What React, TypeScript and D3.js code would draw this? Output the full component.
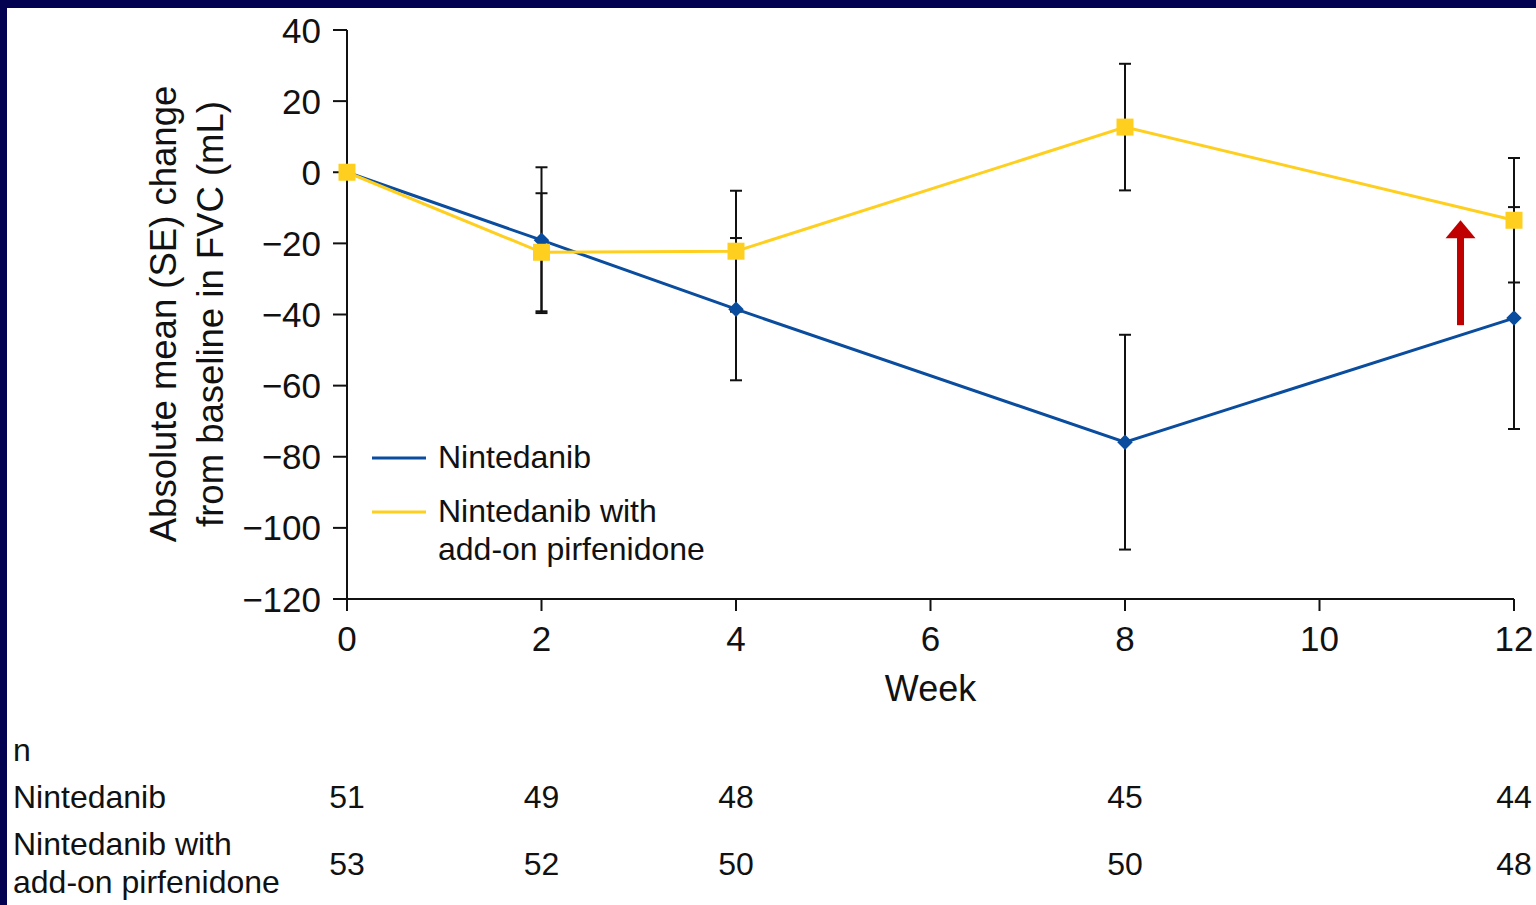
import React from "react";
import * as d3 from "d3";

// Weeks on the x axis and the visits with observations
const weeks = [0, 2, 4, 8, 12];
const xTicks = [0, 2, 4, 6, 8, 10, 12];
const yTicks = [40, 20, 0, -20, -40, -60, -80, -100, -120];

// Mean change from baseline in FVC (mL) and standard errors
const nintedanibMean = [0, -19.1, -38.5, -75.9, -41];
const nintedanibSE = [0, 20.5, 20, 30.2, 31.2];
const addOnMean = [0, -22.5, -22.2, 12.7, -13.5];
const addOnSE = [0, 16.6, 17, 17.8, 17.5];

// Patients at each visit
const nNintedanib = [51, 49, 48, 45, 44];
const nAddOn = [53, 52, 50, 50, 48];

const W = 1536;
const H = 905;
const FONT = "'Liberation Sans', Arial, Helvetica, sans-serif";
const BLUE = "#0a4c9e";
const YELLOW = "#ffcf1f";

export default function App() {
  const x = d3.scaleLinear().domain([0, 12]).range([347, 1514]);
  const y = d3.scaleLinear().domain([-120, 40]).range([599, 30]);

  const line = d3
    .line<number>()
    .x((_, i) => x(weeks[i]))
    .y((d) => y(d));

  const errorBars = (mean: number[], se: number[], key: string) =>
    weeks.map((w, i) =>
      se[i] > 0 ? (
        <g key={key + i} stroke="#111" strokeWidth={2}>
          <line x1={x(w)} x2={x(w)} y1={y(mean[i] + se[i])} y2={y(mean[i] - se[i])} />
          <line x1={x(w) - 6} x2={x(w) + 6} y1={y(mean[i] + se[i])} y2={y(mean[i] + se[i])} />
          <line x1={x(w) - 6} x2={x(w) + 6} y1={y(mean[i] - se[i])} y2={y(mean[i] - se[i])} />
        </g>
      ) : null
    );

  const arrowX = x(11.45);
  const arrowBase = y(-43);
  const arrowTip = y(-13.5);

  return (
    <svg
      width={W}
      height={H}
      style={{ position: "absolute", left: 0, top: 0, display: "block" }}
      fontFamily={FONT}
    >
      <rect x={0} y={0} width={W} height={H} fill="#020250" />
      <rect x={7} y={8} width={W - 7} height={H - 8} fill="#ffffff" />

      {/* y axis */}
      <line x1={x(0)} x2={x(0)} y1={y(40)} y2={y(-120)} stroke="#111" strokeWidth={2} />
      {yTicks.map((t) => (
        <g key={"yt" + t}>
          <line x1={x(0) - 14} x2={x(0)} y1={y(t)} y2={y(t)} stroke="#111" strokeWidth={2} />
          <text
            x={x(0) - 26}
            y={y(t)}
            dy="0.36em"
            textAnchor="end"
            fontSize={35}
            fill="#111"
          >
            {t < 0 ? "\u2212" + Math.abs(t) : String(t)}
          </text>
        </g>
      ))}

      {/* x axis */}
      <line x1={x(0)} x2={x(12)} y1={y(-120)} y2={y(-120)} stroke="#111" strokeWidth={2} />
      {xTicks.map((t) => (
        <g key={"xt" + t}>
          <line x1={x(t)} x2={x(t)} y1={y(-120)} y2={y(-120) + 12} stroke="#111" strokeWidth={2} />
          <text x={x(t)} y={y(-120) + 52} textAnchor="middle" fontSize={35} fill="#111">
            {t}
          </text>
        </g>
      ))}
      <text x={x(6)} y={701} textAnchor="middle" fontSize={36} fill="#111">
        Week
      </text>

      {/* y axis title */}
      <g transform={`translate(176, 314) rotate(-90)`}>
        <text x={0} y={0} textAnchor="middle" fontSize={36.5} fill="#111">
          Absolute mean (SE) change
        </text>
        <text x={0} y={47} textAnchor="middle" fontSize={36.5} fill="#111">
          from baseline in FVC (mL)
        </text>
      </g>

      {/* error bars */}
      {errorBars(nintedanibMean, nintedanibSE, "eb-n")}
      {errorBars(addOnMean, addOnSE, "eb-a")}

      {/* series lines */}
      <path d={line(nintedanibMean) ?? ""} fill="none" stroke={BLUE} strokeWidth={3} />
      <path d={line(addOnMean) ?? ""} fill="none" stroke={YELLOW} strokeWidth={3} />

      {/* markers */}
      {weeks.map((w, i) => (
        <rect
          key={"dm" + i}
          x={x(w) - 5.5}
          y={y(nintedanibMean[i]) - 5.5}
          width={11}
          height={11}
          fill={BLUE}
          transform={`rotate(45 ${x(w)} ${y(nintedanibMean[i])})`}
        />
      ))}
      {weeks.map((w, i) => (
        <rect
          key={"sq" + i}
          x={x(w) - 8.5}
          y={y(addOnMean[i]) - 8.5}
          width={17}
          height={17}
          fill={YELLOW}
        />
      ))}

      {/* red arrow */}
      <rect x={arrowX - 3.5} y={arrowTip + 16} width={7} height={arrowBase - arrowTip - 16} fill="#c00000" />
      <path
        d={`M${arrowX},${arrowTip} L${arrowX + 15},${arrowTip + 18} L${arrowX - 15},${arrowTip + 18} Z`}
        fill="#c00000"
      />

      {/* legend */}
      <line x1={372} x2={426} y1={458} y2={458} stroke={BLUE} strokeWidth={3} />
      <text x={438} y={468} fontSize={32} fill="#111">
        Nintedanib
      </text>
      <line x1={372} x2={426} y1={512} y2={512} stroke={YELLOW} strokeWidth={3} />
      <text x={438} y={522} fontSize={32} fill="#111">
        Nintedanib with
      </text>
      <text x={438} y={560} fontSize={32} fill="#111">
        add-on pirfenidone
      </text>

      {/* numbers at risk */}
      <text x={13} y={761} fontSize={32} fill="#111">
        n
      </text>
      <text x={13} y={808} fontSize={32} fill="#111">
        Nintedanib
      </text>
      <text x={13} y={855} fontSize={32} fill="#111">
        Nintedanib with
      </text>
      <text x={13} y={893} fontSize={32} fill="#111">
        add-on pirfenidone
      </text>
      {weeks.map((w, i) => (
        <g key={"n" + i}>
          <text x={x(w)} y={808} textAnchor="middle" fontSize={32} fill="#111">
            {nNintedanib[i]}
          </text>
          <text x={x(w)} y={875} textAnchor="middle" fontSize={32} fill="#111">
            {nAddOn[i]}
          </text>
        </g>
      ))}
    </svg>
  );
}
